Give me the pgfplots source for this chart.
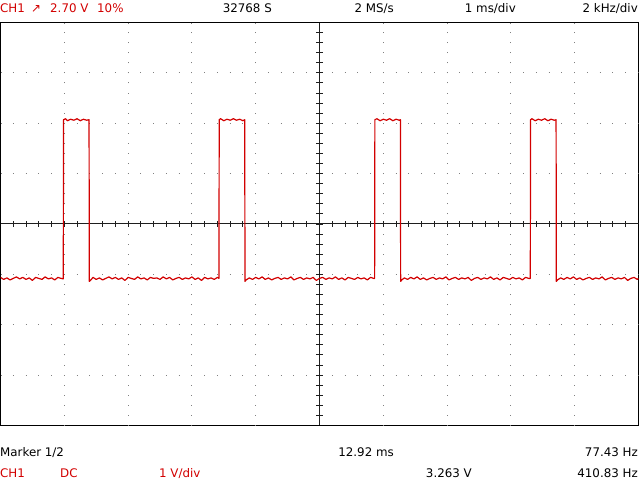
\documentclass[border=0pt]{standalone}
\usepackage{pgfplots}
\pgfplotsset{compat=1.18}
\usepackage{fontspec}
\setmainfont{DejaVu Sans}
\definecolor{scopered}{RGB}{210,0,0}
\definecolor{dotgray}{RGB}{128,128,128}
\definecolor{crossc}{RGB}{30,30,30}
\begin{document}
\begin{tikzpicture}
\path[use as bounding box] (0bp,0bp) rectangle (640bp,480bp);
\begin{axis}[at={(0.5bp,54.5bp)}, anchor=south west, scale only axis,
  width=638bp, height=403bp, xmin=-5, xmax=5, ymin=-4, ymax=4,
  xtick=\empty, ytick=\empty,
  axis line style={black, line width=1bp}, clip=true]
% dotted grid
\pgfplotsinvokeforeach{-4,-3,-2,-1,1,2,3,4}{
  \draw[dotgray, line width=1bp, dash pattern=on 1bp off 9.075bp, dash phase=0.5bp] (axis cs:#1,-4) -- (axis cs:#1,4);
}
\pgfplotsinvokeforeach{-3,-2,-1,1,2,3}{
  \draw[dotgray, line width=1bp, dash pattern=on 1bp off 11.76bp, dash phase=0.5bp] (axis cs:-5,#1) -- (axis cs:5,#1);
}
% center cross
\draw[crossc, line width=1bp] (axis cs:-5,0) -- (axis cs:5,0);
\draw[crossc, line width=1bp] (axis cs:0,-4) -- (axis cs:0,4);
\pgfplotsinvokeforeach{-4.8,-4.6,...,4.81}{
  \draw[crossc, line width=1bp] (axis cs:#1,0) ++(0bp,-2.7bp) -- ++(0bp,5.4bp);
}
\pgfplotsinvokeforeach{-3.8,-3.6,...,3.81}{
  \draw[crossc, line width=1bp] (axis cs:0,#1) ++(-3.5bp,0bp) -- ++(7bp,0bp);
}
% waveform
\addplot[scopered, line width=1.2bp, line join=round] coordinates {
(-5.00,-1.06) (-4.95,-1.10) (-4.90,-1.07) (-4.85,-1.11) (-4.80,-1.08) (-4.75,-1.05) (-4.70,-1.09) (-4.65,-1.06) (-4.60,-1.10) (-4.55,-1.07)
(-4.50,-1.12) (-4.45,-1.06) (-4.40,-1.08) (-4.35,-1.10) (-4.30,-1.05) (-4.25,-1.09) (-4.20,-1.07) (-4.15,-1.11) (-4.10,-1.06) (-4.05,-1.08) (-4.016,-1.09)
(-4.012,2.07) (-3.98,2.09) (-3.95,2.05) (-3.90,2.08) (-3.85,2.06) (-3.80,2.09) (-3.75,2.05) (-3.70,2.08) (-3.65,2.06) (-3.612,2.07)
(-3.608,-1.14) (-3.59,-1.12)
(-3.55,-1.06) (-3.50,-1.10) (-3.45,-1.07) (-3.40,-1.11) (-3.35,-1.08) (-3.30,-1.05) (-3.25,-1.09) (-3.20,-1.06) (-3.15,-1.10) (-3.10,-1.07)
(-3.05,-1.12) (-3.00,-1.06) (-2.95,-1.08) (-2.90,-1.10) (-2.85,-1.05) (-2.80,-1.09) (-2.75,-1.07) (-2.70,-1.11) (-2.65,-1.06) (-2.60,-1.08)
(-2.55,-1.07) (-2.50,-1.10) (-2.45,-1.05) (-2.40,-1.09) (-2.35,-1.06) (-2.30,-1.11) (-2.25,-1.08) (-2.20,-1.06) (-2.15,-1.10) (-2.10,-1.07)
(-2.05,-1.09) (-2.00,-1.05) (-1.95,-1.10) (-1.90,-1.07) (-1.85,-1.12) (-1.80,-1.06) (-1.75,-1.09) (-1.70,-1.07) (-1.65,-1.10) (-1.60,-1.06) (-1.576,-1.08)
(-1.572,2.07) (-1.55,2.09) (-1.50,2.05) (-1.45,2.08) (-1.40,2.06) (-1.35,2.09) (-1.30,2.06) (-1.25,2.08) (-1.20,2.05) (-1.172,2.07)
(-1.168,-1.14) (-1.15,-1.11)
(-1.10,-1.07) (-1.05,-1.10) (-1.00,-1.06) (-0.95,-1.09) (-0.90,-1.05) (-0.85,-1.10) (-0.80,-1.07) (-0.75,-1.11) (-0.70,-1.08) (-0.65,-1.06)
(-0.60,-1.10) (-0.55,-1.07) (-0.50,-1.09) (-0.45,-1.05) (-0.40,-1.11) (-0.35,-1.08) (-0.30,-1.06) (-0.25,-1.10) (-0.20,-1.07) (-0.15,-1.09)
(-0.10,-1.06) (-0.05,-1.12) (0.00,-1.08) (0.05,-1.06) (0.10,-1.10) (0.15,-1.07) (0.20,-1.09) (0.25,-1.05) (0.30,-1.10) (0.35,-1.07)
(0.40,-1.11) (0.45,-1.06) (0.50,-1.08) (0.55,-1.10) (0.60,-1.06) (0.65,-1.09) (0.70,-1.07) (0.75,-1.11) (0.80,-1.06) (0.85,-1.08) (0.864,-1.08)
(0.868,2.07) (0.90,2.09) (0.95,2.05) (1.00,2.08) (1.05,2.06) (1.10,2.09) (1.15,2.05) (1.20,2.08) (1.25,2.06) (1.268,2.07)
(1.272,-1.14) (1.29,-1.11)
(1.33,-1.07) (1.38,-1.10) (1.43,-1.06) (1.48,-1.09) (1.53,-1.05) (1.58,-1.10) (1.63,-1.07) (1.68,-1.11) (1.73,-1.08) (1.78,-1.06)
(1.83,-1.10) (1.88,-1.07) (1.93,-1.09) (1.98,-1.05) (2.03,-1.11) (2.08,-1.08) (2.13,-1.06) (2.18,-1.10) (2.23,-1.07) (2.28,-1.09)
(2.33,-1.06) (2.38,-1.12) (2.43,-1.08) (2.48,-1.06) (2.53,-1.10) (2.58,-1.07) (2.63,-1.09) (2.68,-1.05) (2.73,-1.10) (2.78,-1.07)
(2.83,-1.11) (2.88,-1.06) (2.93,-1.08) (2.98,-1.10) (3.03,-1.06) (3.08,-1.09) (3.13,-1.07) (3.18,-1.11) (3.23,-1.06) (3.28,-1.08) (3.304,-1.08)
(3.308,2.07) (3.33,2.09) (3.38,2.05) (3.43,2.08) (3.48,2.06) (3.53,2.09) (3.58,2.05) (3.63,2.08) (3.68,2.06) (3.708,2.07)
(3.712,-1.14) (3.73,-1.11)
(3.78,-1.07) (3.83,-1.10) (3.88,-1.06) (3.93,-1.09) (3.98,-1.05) (4.03,-1.10) (4.08,-1.07) (4.13,-1.11) (4.18,-1.08) (4.23,-1.06)
(4.28,-1.10) (4.33,-1.07) (4.38,-1.09) (4.43,-1.05) (4.48,-1.11) (4.53,-1.08) (4.58,-1.06) (4.63,-1.10) (4.68,-1.07) (4.73,-1.09)
(4.78,-1.06) (4.83,-1.12) (4.88,-1.08) (4.93,-1.06) (4.98,-1.10) (5.00,-1.08)
};
\end{axis}
\tikzset{lbl/.style={inner sep=0pt, font=\fontsize{11.9}{14}\selectfont}}
% top row
\node[lbl, scopered, anchor=base west] at (0bp,467.5bp) {CH1};
\node[lbl, scopered, anchor=base west] at (31bp,467.5bp) {↗};
\node[lbl, scopered, anchor=base west] at (50bp,467.5bp) {2.70 V};
\node[lbl, scopered, anchor=base west] at (97bp,467.5bp) {10\%};
\node[lbl, anchor=base east] at (272bp,467.5bp) {32768 S};
\node[lbl, anchor=base east] at (394bp,467.5bp) {2 MS/s};
\node[lbl, anchor=base east] at (516bp,467.5bp) {1 ms/div};
\node[lbl, anchor=base east] at (638bp,467.5bp) {2 kHz/div};
% bottom rows
\node[lbl, anchor=base west] at (0bp,24bp) {Marker 1/2};
\node[lbl, anchor=base east] at (394bp,24bp) {12.92 ms};
\node[lbl, anchor=base east] at (638bp,24bp) {77.43 Hz};
\node[lbl, scopered, anchor=base west] at (0bp,3bp) {CH1};
\node[lbl, scopered, anchor=base west] at (60bp,3bp) {DC};
\node[lbl, scopered, anchor=base west] at (159bp,3bp) {1 V/div};
\node[lbl, anchor=base east] at (472bp,3bp) {3.263 V};
\node[lbl, anchor=base east] at (638bp,3bp) {410.83 Hz};
\end{tikzpicture}
\end{document}
